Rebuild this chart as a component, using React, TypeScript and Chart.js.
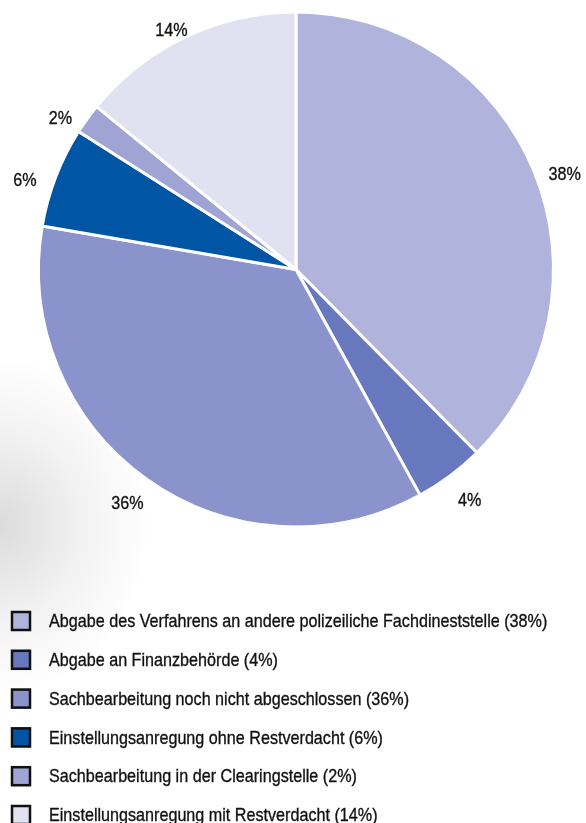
import React, { useEffect, useRef } from "react";
import { Chart, registerables } from "chart.js";

Chart.register(...registerables);

const categories = [
  "Abgabe des Verfahrens an andere polizeiliche Fachdineststelle",
  "Abgabe an Finanzbehörde",
  "Sachbearbeitung noch nicht abgeschlossen",
  "Einstellungsanregung ohne Restverdacht",
  "Sachbearbeitung in der Clearingstelle",
  "Einstellungsanregung mit Restverdacht",
];
const values = [37.6, 4.4, 35.7, 6.3, 1.9, 14.1];
const percentLabels = ["38%", "4%", "36%", "6%", "2%", "14%"];
const colors = ["#B0B4DC", "#6878BE", "#8A93CB", "#0055A4", "#A0A4D4", "#E1E1F1"];

const FONT = '"Liberation Sans", Arial, sans-serif';
const NARROW = 0.85;

function narrowText(ctx: any, text: string, x: number, y: number, align: "left" | "center") {
  ctx.save();
  ctx.translate(x, y);
  ctx.scale(NARROW, 1);
  ctx.textAlign = align;
  ctx.fillText(text, 0, 0);
  ctx.lineWidth = 0.35;
  ctx.strokeStyle = ctx.fillStyle;
  ctx.strokeText(text, 0, 0);
  ctx.restore();
}

const labelPlugin = {
  id: "outerLabels",
  afterDatasetsDraw(chart: any) {
    const ctx = chart.ctx;
    const meta = chart.getDatasetMeta(0);
    ctx.save();
    ctx.font = `19px ${FONT}`;
    ctx.fillStyle = "#111111";
    ctx.textBaseline = "middle";
    meta.data.forEach((arc: any, i: number) => {
      const mid = (arc.startAngle + arc.endAngle) / 2;
      const rx = arc.outerRadius + 33;
      const ry = arc.outerRadius + 18;
      narrowText(ctx, percentLabels[i], arc.x + Math.cos(mid) * rx, arc.y + Math.sin(mid) * ry + 10, "center");
    });
    ctx.restore();
  },
};

const legendPlugin = {
  id: "customLegend",
  afterDraw(chart: any) {
    const ctx = chart.ctx;
    ctx.save();
    ctx.font = `19px ${FONT}`;
    ctx.textBaseline = "middle";
    const top = 621;
    const step = 38.8;
    categories.forEach((c, i) => {
      const y = top + i * step;
      ctx.fillStyle = colors[i];
      ctx.fillRect(11, y - 10, 20, 20);
      ctx.strokeStyle = "#111";
      ctx.lineWidth = 2.5;
      ctx.strokeRect(12, y - 9, 18, 18);
      ctx.fillStyle = "#111111";
      narrowText(ctx, `${c} (${percentLabels[i]})`, 49, y + 1, "left");
    });
    ctx.restore();
  },
};

export default function App() {
  const ref = useRef<HTMLCanvasElement>(null);
  useEffect(() => {
    document.body.style.margin = "0";
    const chart = new Chart(ref.current!, {
      type: "pie",
      data: {
        labels: categories,
        datasets: [
          {
            data: values,
            backgroundColor: colors,
            borderColor: "#ffffff",
            borderWidth: 3,
          },
        ],
      },
      options: {
        responsive: false,
        animation: false,
        layout: { padding: { top: 10, left: 37, right: 31, bottom: 294 } },
        plugins: { legend: { display: false }, tooltip: { enabled: false } },
      },
      plugins: [labelPlugin, legendPlugin],
    });
    return () => chart.destroy();
  }, []);
  return (
    <div
      style={{
        width: 586,
        height: 823,
        background:
          "radial-gradient(ellipse 150px 170px at 0px 525px, rgba(0,0,0,0.14), rgba(0,0,0,0.05) 55%, rgba(0,0,0,0) 100%)",
      }}
    >
      <canvas ref={ref} width={586} height={823} />
    </div>
  );
}
